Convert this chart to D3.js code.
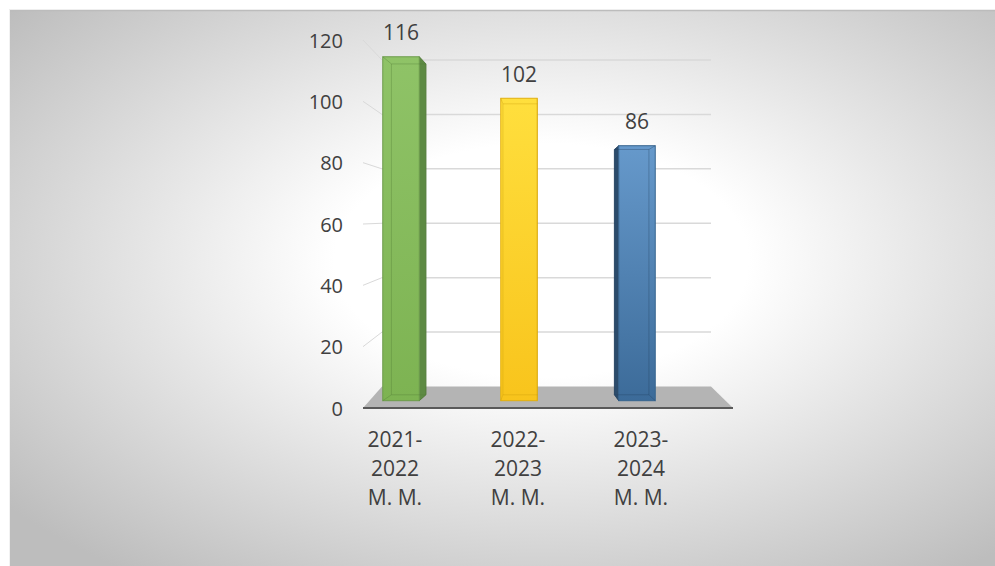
<!DOCTYPE html>
<html>
<head>
<meta charset="utf-8">
<script src="https://cdn.jsdelivr.net/npm/d3@7"></script>
<style>
  html, body { margin: 0; padding: 0; background: #ffffff; }
  svg { display: block; }
  text { font-family: "Open Sans", "Noto Sans", sans-serif; fill: #404040; }
</style>
</head>
<body>
<svg id="chart" width="995" height="566"></svg>
<script>
// ---- data ----
const categories = ["2021-2022 M. M.", "2022-2023 M. M.", "2023-2024 M. M."];
const values = [116, 102, 86];
const yTicks = [0, 20, 40, 60, 80, 100, 120];
const yDomain = [0, 120];

// ---- styles ----
const palette = [
  { top: "#8fc367", bottom: "#7db352", side: "#5d8a43", stroke: "#6d9c4c", edge: "#4f7a37" },
  { top: "#ffdf3d", bottom: "#f8c41c", side: "#d5a512", stroke: "#e2b00f", edge: "#c99a08" },
  { top: "#6699cb", bottom: "#3c6b99", side: "#2b4b6b", stroke: "#36648f", edge: "#22405e" }
];

const W = 995, H = 566;
const svg = d3.select("#chart");
const defs = svg.append("defs");

// background radial gradient
const bg = defs.append("radialGradient").attr("id", "bg")
  .attr("cx", 0.54).attr("cy", 0.45).attr("r", 0.7);
bg.append("stop").attr("offset", 0).attr("stop-color", "#ffffff");
bg.append("stop").attr("offset", 0.3).attr("stop-color", "#ffffff");
bg.append("stop").attr("offset", 1).attr("stop-color", "#bdbdbd");

svg.append("rect").attr("x", 9).attr("y", 10).attr("width", W - 9).attr("height", H - 10)
  .attr("fill", "url(#bg)");
svg.append("line").attr("x1", 9).attr("x2", W).attr("y1", 10.5).attr("y2", 10.5)
  .attr("stroke", "#bcbcbc").attr("stroke-width", 1.5);
svg.append("line").attr("x1", 9.5).attr("x2", 9.5).attr("y1", 10).attr("y2", H)
  .attr("stroke", "#f2f2f2").attr("stroke-width", 1);

// ---- scales ----
const wall = { frontLeft: 363, backLeft: 382, backRight: 711, frontRight: 733 };
const yFront = d3.scaleLinear().domain(yDomain).range([408, 40]);   // front plane (axis labels)
const yBack = d3.scaleLinear().domain(yDomain).range([386.5, 60]);  // back wall
const yBar = d3.scaleLinear().domain(yDomain).range([400.7, 44.9]); // bar front faces
const xBar = d3.scalePoint().domain(categories).range([401, 637]);
const xLabel = d3.scalePoint().domain(categories).range([395, 641]);
const barW = 36.5;

// perspective helper (shift toward vanishing point for back faces)
const VP = { x: 540, y: 245 }, kx = 0.055, ky = 0.038;
const bx = x => x + (VP.x - x) * kx;
const by = y => y + (VP.y - y) * ky;

// ---- gridlines ----
const grid = svg.append("g");
yTicks.filter(v => v > 0).forEach(v => {
  grid.append("line")
    .attr("x1", wall.backLeft).attr("x2", wall.backRight)
    .attr("y1", yBack(v)).attr("y2", yBack(v))
    .attr("stroke", "#d9d9d9").attr("stroke-width", 1.5);
  grid.append("line")
    .attr("x1", wall.frontLeft).attr("x2", wall.backLeft)
    .attr("y1", yFront(v)).attr("y2", yBack(v))
    .attr("stroke", "#d9d9d9").attr("stroke-width", 1);
});

// ---- floor ----
svg.append("polygon")
  .attr("points", [
    [wall.frontLeft, yFront(0)], [wall.backLeft, yBack(0)],
    [wall.backRight, yBack(0)], [wall.frontRight, yFront(0)]
  ].map(p => p.join(",")).join(" "))
  .attr("fill", "#b4b4b4");
svg.append("line")
  .attr("x1", wall.frontLeft).attr("x2", wall.frontRight)
  .attr("y1", yFront(0)).attr("y2", yFront(0))
  .attr("stroke", "#595959").attr("stroke-width", 2);

// ---- y axis labels ----
svg.append("g").selectAll("text").data(yTicks).join("text")
  .attr("x", 343).attr("y", d => yFront(d))
  .attr("text-anchor", "end").attr("dominant-baseline", "central")
  .attr("font-size", 20)
  .text(d => d);

// ---- bars ----
categories.forEach((c, i) => {
  const col = palette[i];
  const gid = "bar" + i;
  const lg = defs.append("linearGradient").attr("id", gid)
    .attr("x1", 0).attr("y1", 0).attr("x2", 0).attr("y2", 1);
  lg.append("stop").attr("offset", 0).attr("stop-color", col.top);
  lg.append("stop").attr("offset", 1).attr("stop-color", col.bottom);

  const x0 = xBar(c) - barW / 2, x1 = xBar(c) + barW / 2;
  const t = yBar(values[i]), b = yBar(0);
  const X0 = bx(x0), X1 = bx(x1), T = by(t), B = by(b);
  const g = svg.append("g");
  const pts = a => a.map(p => p.join(",")).join(" ");

  // side faces
  if (X1 > x1 + 0.5) {
    g.append("polygon").attr("points", pts([[x1, t], [X1, T], [X1, B], [x1, b]]))
      .attr("fill", col.side).attr("stroke", col.edge).attr("stroke-width", 0.8);
  }
  if (X0 < x0 - 0.5) {
    g.append("polygon").attr("points", pts([[x0, t], [X0, T], [X0, B], [x0, b]]))
      .attr("fill", col.side).attr("stroke", col.edge).attr("stroke-width", 0.8);
  }
  // front face
  g.append("rect").attr("x", x0).attr("y", t).attr("width", x1 - x0).attr("height", b - t)
    .attr("fill", `url(#${gid})`).attr("stroke", col.stroke).attr("stroke-width", 1);
  // back edges seen through
  const e = g.append("g").attr("stroke", col.edge).attr("stroke-opacity", 0.35)
    .attr("stroke-width", 1).attr("fill", "none");
  e.append("polygon").attr("points", pts([[X0, T], [X1, T], [X1, B], [X0, B]]));
  [[x0, t, X0, T], [x1, t, X1, T], [x0, b, X0, B], [x1, b, X1, B]].forEach(s => {
    e.append("line").attr("x1", s[0]).attr("y1", s[1]).attr("x2", s[2]).attr("y2", s[3]);
  });

  // data label
  svg.append("text")
    .attr("x", xBar(c)).attr("y", t - 16.5)
    .attr("text-anchor", "middle").attr("font-size", 21)
    .text(values[i]);
});

// ---- category labels ----
const catLines = c => {
  const m = c.match(/^(\d{4}-)(\d{4}) (.*)$/);
  return m ? [m[1], m[2], m[3]] : [c];
};
const cat = svg.append("g").selectAll("text").data(categories).join("text")
  .attr("text-anchor", "middle").attr("font-size", 21)
  .attr("x", d => xLabel(d)).attr("y", 446.5);
cat.selectAll("tspan").data(d => catLines(d).map(s => ({ s, c: d }))).join("tspan")
  .attr("x", d => xLabel(d.c))
  .attr("dy", (d, j) => j === 0 ? 0 : 29)
  .text(d => d.s);
</script>
</body>
</html>
